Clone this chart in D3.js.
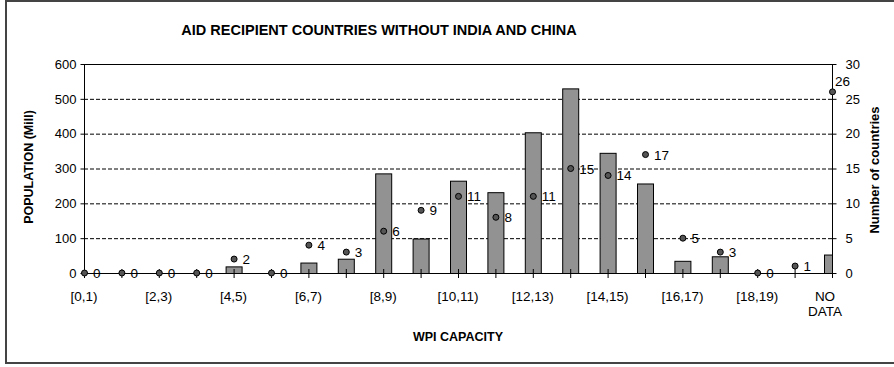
<!DOCTYPE html>
<html><head><meta charset="utf-8">
<script src="https://cdn.jsdelivr.net/npm/d3@7"></script>
<style>body{margin:0;background:#fff}svg{display:block;font-family:"Liberation Sans",Arial,sans-serif}text{fill:#000}</style>
</head><body><svg id="c" width="894" height="367"></svg>
<script>
const categories = ["[0,1)","[1,2)","[2,3)","[3,4)","[4,5)","[5,6)","[6,7)","[7,8)","[8,9)","[9,10)","[10,11)","[11,12)","[12,13)","[13,14)","[14,15)","[15,16)","[16,17)","[17,18)","[18,19)","[19,20)","NO DATA"];
const population = [0,0,0,0,19,0,30,41,286,99,265,232,404,530,345,257,35,48,0,0,53];
const countries = [0,0,0,0,2,0,4,3,6,9,11,8,11,15,14,17,5,3,0,1,26];
const popTicks = [0,100,200,300,400,500,600];
const countryTicks = [0,5,10,15,20,25,30];
const tickLabelShown = ["[0,1)","[2,3)","[4,5)","[6,7)","[8,9)","[10,11)","[12,13)","[14,15)","[16,17)","[18,19)","NO DATA"];

const svg = d3.select("#c");
const L = 84, R = 832, T = 64, B = 273;
const x = d3.scalePoint().domain(categories).range([L, R]);
const yL = d3.scaleLinear().domain([0, 600]).range([B, T]);
const yR = d3.scaleLinear().domain([0, 30]).range([B, T]);
const FF = "Liberation Sans, Arial, sans-serif";

// outer border
svg.append("rect").attr("x",6).attr("y",1).attr("width",900).attr("height",362)
  .attr("fill","none").attr("stroke","#444").attr("stroke-width",2);

// title
svg.append("text").attr("x",379).attr("y",35).attr("text-anchor","middle")
  .attr("font-size",14.5).attr("font-weight","bold").text("AID RECIPIENT COUNTRIES WITHOUT INDIA AND CHINA");

// gridlines
svg.append("g").selectAll("line").data(popTicks.filter(d => d > 0 && d < 600)).join("line")
  .attr("x1",L).attr("x2",R).attr("y1",d=>yL(d)+0.5).attr("y2",d=>yL(d)+0.5)
  .attr("stroke","#000").attr("stroke-dasharray","4,2").attr("stroke-width",1);
svg.append("line").attr("x1",L).attr("x2",R).attr("y1",T+0.5).attr("y2",T+0.5).attr("stroke","#000");

// bars (clipped to plot area)
svg.append("clipPath").attr("id","clip").append("rect").attr("x",L).attr("y",T).attr("width",R-L).attr("height",B-T);
const bw = 16;
svg.append("g").attr("clip-path","url(#clip)").selectAll("rect").data(categories.map((c,i)=>({c,v:population[i]})).filter(d=>d.v>0)).join("rect")
  .attr("x",d=>x(d.c)-bw/2+0.5).attr("y",d=>yL(d.v)+0.5).attr("width",bw).attr("height",d=>B-yL(d.v))
  .attr("fill","#929292").attr("stroke","#000").attr("stroke-width",1);

// left axis
const axL = svg.append("g").attr("transform",`translate(${L+0.5},0)`)
  .call(d3.axisLeft(yL).tickValues(popTicks).tickSize(4).tickPadding(4));
axL.select(".domain").attr("d",`M-0,${T}V${B}`);
axL.selectAll("text").attr("font-size",13).attr("font-family",FF).attr("fill","#000");
// right axis
const axR = svg.append("g").attr("transform",`translate(${R+0.5},0)`)
  .call(d3.axisRight(yR).tickValues(countryTicks).tickSize(4).tickPadding(9));
axR.select(".domain").attr("d",`M0,${T}V${B}`);
axR.selectAll("text").attr("font-size",13).attr("font-family",FF).attr("fill","#000");

// x axis
svg.append("line").attr("x1",L).attr("x2",R).attr("y1",B+0.5).attr("y2",B+0.5).attr("stroke","#000");
svg.append("g").selectAll("line").data(categories).join("line")
  .attr("x1",d=>x(d)+0.5).attr("x2",d=>x(d)+0.5).attr("y1",B-4).attr("y2",B+5).attr("stroke","#000");
const xl = svg.append("g").selectAll("text").data(tickLabelShown).join("text")
  .attr("x",d=>x(d)).attr("y",301).attr("text-anchor","middle").attr("font-size",13.5);
xl.each(function(d){
  const words = d === "NO DATA" ? ["NO","DATA"] : [d];
  const t = d3.select(this);
  words.forEach((w,i)=>t.append("tspan").attr("x",x(d) - (d==="NO DATA"?7:0)).attr("dy",i?15:0).text(w));
});

// dots
const pts = categories.map((c,i)=>({c,v:countries[i],last:i===categories.length-1}));
svg.append("g").selectAll("circle").data(pts).join("circle")
  .attr("cx",d=>x(d.c)+0.5).attr("cy",d=>yR(d.v)).attr("r",3)
  .attr("fill","#555").attr("stroke","#000").attr("stroke-width",1);
svg.append("g").selectAll("text").data(pts).join("text")
  .attr("x",d=>d.last ? x(d.c)+3 : x(d.c)+9).attr("y",d=>d.last ? yR(d.v)-6 : yR(d.v)+5)
  .attr("font-size",13.5).attr("fill","#000").text(d=>d.v);

// axis titles
svg.append("text").attr("transform","translate(33,167) rotate(-90)").attr("text-anchor","middle")
  .attr("font-size",12.5).attr("font-weight","bold").text("POPULATION (Mill)");
svg.append("text").attr("transform","translate(879,170) rotate(-90)").attr("text-anchor","middle")
  .attr("font-size",13).attr("font-weight","bold").text("Number of countries");
svg.append("text").attr("x",458).attr("y",341).attr("text-anchor","middle")
  .attr("font-size",12.5).attr("font-weight","bold").text("WPI CAPACITY");
</script></body></html>
